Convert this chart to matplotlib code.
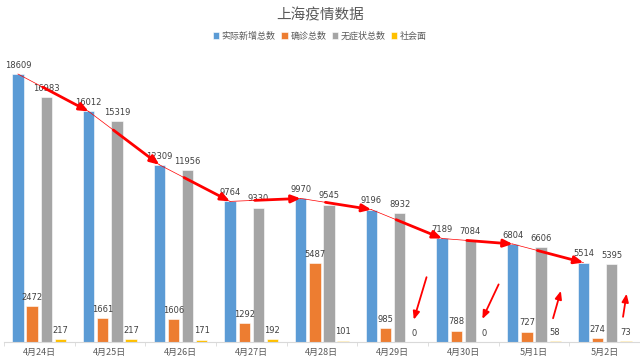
import numpy as np
import matplotlib
matplotlib.use('Agg')
from matplotlib import pyplot as plt

plt.rcParams['font.family'] = ['Noto Sans CJK SC', 'DejaVu Sans']

days = ['4月24日', '4月25日', '4月26日', '4月27日', '4月28日', '4月29日', '4月30日', '5月1日', '5月2日']
newTotal = [18609, 16012, 12309, 9764, 9970, 9196, 7189, 6804, 5514]
confirmed = [2472, 1661, 1606, 1292, 5487, 985, 788, 727, 274]
asymptomatic = [16983, 15319, 11956, 9330, 9545, 8932, 7084, 6606, 5395]
community = [217, 217, 171, 192, 101, 0, 0, 58, 73]

seriesNames = ['实际新增总数', '确诊总数', '无症状总数', '社会面']
seriesColors = ['#5B9BD5', '#ED7D31', '#A5A5A5', '#FFC000']

# small hand-drawn arrows next to the community labels (day index, start, end)
# start/end given as (x offset from bar, y value)
smallArrows = [
    (5, (0.18, 4500), (0.0, 1550)),
    (6, (0.20, 4000), (-0.03, 1600)),
    (7, (-0.03, 1650), (0.08, 3550)),
    (8, (-0.04, 1750), (0.01, 3350)),
]


def makePlot():
    fig = plt.figure(figsize=(6.4, 3.6), dpi=100)
    ax = fig.add_axes([0.006, 0.05, 0.994, 0.80])
    x = np.arange(len(days))
    width = 0.16
    step = 0.2
    allSeries = [newTotal, confirmed, asymptomatic, community]
    bars = []
    for k, values in enumerate(allSeries):
        pos = x + (k - 1.5) * step
        b = ax.bar(pos, values, width, color=seriesColors[k], label=seriesNames[k],
                   edgecolor='white', linewidth=0.4, zorder=2)
        ax.bar_label(b, labels=[str(v) for v in values], padding=3, fontsize=6,
                     color='#404040', family='DejaVu Sans')
        bars.append(pos)

    # red trend arrows across the blue bar tops
    bluePos = bars[0]
    for i in range(len(days) - 1):
        x0, y0 = bluePos[i], newTotal[i]
        x1, y1 = bluePos[i + 1], newTotal[i + 1]
        ax.plot([x0, x1], [y0, y1], color='#FF0000', lw=0.5, zorder=4)
        xs = x0 + 0.35 * (x1 - x0)
        ys = y0 + 0.35 * (y1 - y0)
        ax.annotate('', xy=(x1, y1), xytext=(xs, ys),
                    arrowprops=dict(arrowstyle='-|>,head_length=0.6,head_width=0.25',
                                    color='#FF0000', lw=2,
                                    mutation_scale=9, shrinkA=0, shrinkB=0), zorder=5)

    yellowPos = bars[3]
    for day, start, end in smallArrows:
        ax.annotate('', xy=(yellowPos[day] + end[0], end[1]),
                    xytext=(yellowPos[day] + start[0], start[1]),
                    arrowprops=dict(arrowstyle='-|>,head_length=0.6,head_width=0.25',
                                    color='#FF0000', lw=1.3,
                                    mutation_scale=8, shrinkA=0, shrinkB=0), zorder=5)

    ax.set_xlim(-0.5, len(days) - 0.5)
    ax.set_ylim(0, 20000)
    ax.set_xticks(x)
    ax.set_xticklabels(days, fontsize=6.5, color='#595959')
    ax.set_xticks(np.arange(len(days) + 1) - 0.5, minor=True)
    ax.tick_params(axis='x', which='major', length=0, pad=4)
    ax.tick_params(axis='x', which='minor', length=3, color='#D9D9D9')
    ax.set_yticks([])
    for side in ['top', 'right', 'left']:
        ax.spines[side].set_visible(False)
    ax.spines['bottom'].set_color('#D9D9D9')

    fig.text(0.5, 0.958, '上海疫情数据', ha='center', va='center', fontsize=10.5,
             color='#595959')
    fig.legend(loc='center', bbox_to_anchor=(0.5, 0.9), ncol=4, fontsize=6.5,
               frameon=False, handlelength=0.7, handleheight=0.7, handletextpad=0.3,
               columnspacing=0.6, labelcolor='#595959')

    fig.savefig('out.png', dpi=100)


if __name__ == '__main__':
    makePlot()
